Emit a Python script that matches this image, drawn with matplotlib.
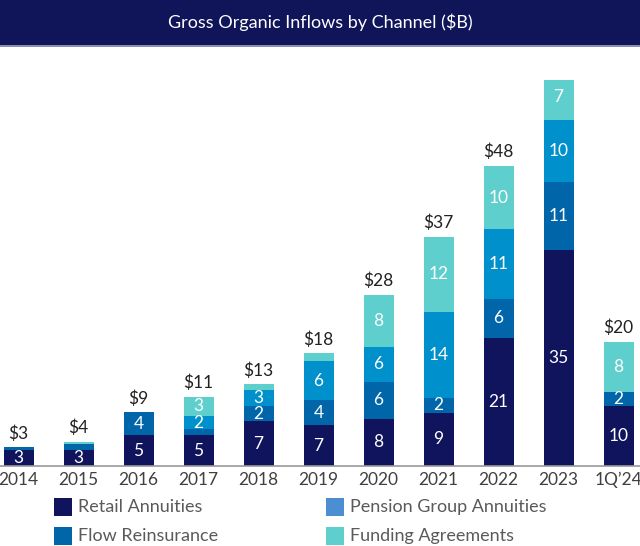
import matplotlib
matplotlib.use("Agg")
import matplotlib.pyplot as plt
from matplotlib.patches import Rectangle
import numpy as np

plt.rcParams['font.family'] = ['Lato', 'DejaVu Sans']

# データ（$B）
periods = ["2014", "2015", "2016", "2017", "2018", "2019", "2020", "2021", "2022", "2023", "1Q\u201924"]
retail = [2.6, 2.6, 5.0, 5.0, 7.2, 6.6, 7.6, 8.6, 20.7, 34.8, 9.6]
flow = [0.4, 1.0, 3.7, 0.9, 2.4, 4.0, 6.0, 2.4, 6.3, 11.0, 2.4]
pension = [0.0, 0.0, 0.0, 2.1, 2.6, 6.3, 5.6, 13.9, 11.2, 10.0, 0.0]
funding = [0.0, 0.3, 0.0, 3.2, 1.0, 1.3, 8.4, 12.1, 10.2, 7.3, 8.0]

series = ["Retail Annuities", "Flow Reinsurance", "Pension Group Annuities", "Funding Agreements"]
colors = ["#10145c", "#0066a9", "#0091cd", "#5fcfcd"]
legend_colors = ["#10145c", "#0066a9", "#4b8fd2", "#5fcfcd"]

W, H = 640, 546
fig = plt.figure(figsize=(W / 100, H / 100), dpi=100)

# タイトル帯
fig.patches.append(Rectangle((0, 1 - 45 / H), 1, 45 / H, transform=fig.transFigure,
                             facecolor="#10155a", edgecolor="none"))
fig.patches.append(Rectangle((0, 1 - 47 / H), 1, 2 / H, transform=fig.transFigure,
                             facecolor="#8a8fb8", edgecolor="none"))
fig.text(0.5, 1 - 22 / H, "Gross Organic Inflows by Channel ($B)", color="white",
         fontsize=13, ha="center", va="center")

# 積み上げ棒グラフ
ax = fig.add_axes([0, 80 / H, 1, 386 / H])
x = np.arange(len(periods))
bottom = np.zeros(len(periods))
for vals, c in zip([retail, flow, pension, funding], colors):
    vals = np.array(vals)
    ax.bar(x, vals, width=0.5, bottom=bottom, color=c, edgecolor="none")
    for i, v in enumerate(vals):
        if v >= 1.5:
            ax.text(x[i], bottom[i] + v / 2, f"{round(v)}", color="white",
                    fontsize=12.5, ha="center", va="center")
    bottom += vals

for i, t in enumerate(bottom):
    ax.annotate(f"${round(t)}", (x[i], t), xytext=(0, 4), textcoords="offset points",
                ha="center", va="bottom", fontsize=12.5, color="#222222")

ax.set_xlim(-18.5 / 60, 10 + 21.5 / 60)
ax.set_ylim(0, 386 / 6.2)
ax.set_xticks(x)
ax.set_xticklabels(periods, fontsize=12.5, color="#404040")
ax.tick_params(axis="x", length=0, pad=4)
ax.set_yticks([])
for s in ["top", "left", "right"]:
    ax.spines[s].set_visible(False)
ax.spines["bottom"].set_color("#9a9a9a")
ax.spines["bottom"].set_linewidth(1.2)

# 凡例（手動配置）
legend_pos = [(54, 507), (54, 536), (326, 507), (326, 536)]
for name, c, (lx, ly) in zip(series, legend_colors, legend_pos):
    fig.patches.append(Rectangle((lx / W, 1 - (ly + 9) / H), 18 / W, 18 / H,
                                 transform=fig.transFigure, facecolor=c, edgecolor="none"))
    fig.text((lx + 24) / W, 1 - ly / H, name, fontsize=13, color="#5a5a5a",
             ha="left", va="center")

fig.savefig("out.png", dpi=100)
